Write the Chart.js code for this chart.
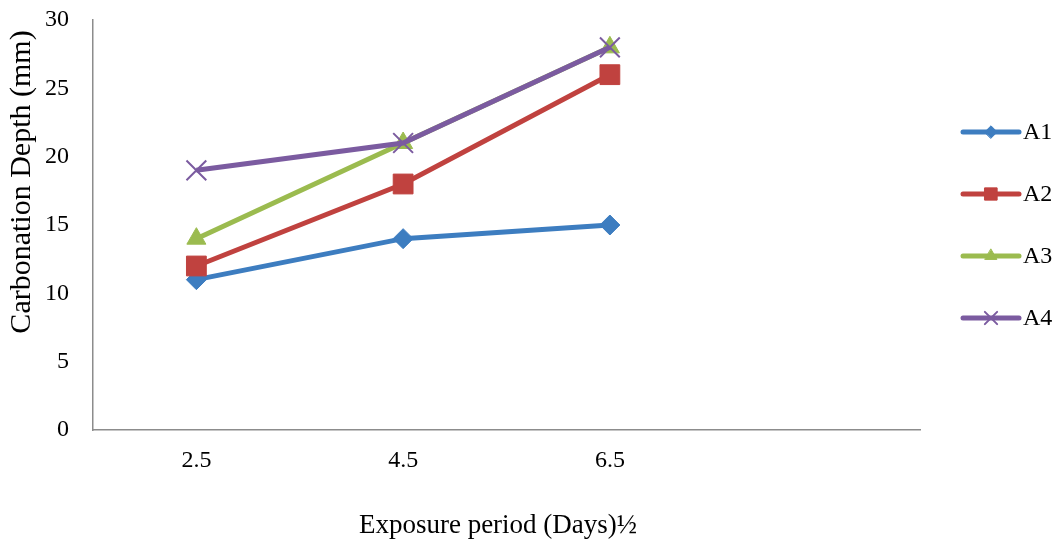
<!DOCTYPE html>
<html>
<head>
<meta charset="utf-8">
<script src="https://cdn.jsdelivr.net/npm/chart.js@4/dist/chart.umd.min.js"></script>
<style>
  html, body { margin: 0; padding: 0; background: #fff; }
  #wrap { width: 1054px; height: 541px; }
</style>
</head>
<body>
<div id="wrap"><canvas id="chart" width="1054" height="541"></canvas></div>
<script>
// data
const periods = ['2.5', '4.5', '6.5', ''];
const seriesNames = ['A1', 'A2', 'A3', 'A4'];
const a1 = [11, 14, 15];
const a2 = [12, 18, 26];
const a3 = [14, 21, 28];
const a4 = [19, 21, 28];
const yTicks = [0, 5, 10, 15, 20, 25, 30];
const xTitle = 'Exposure period (Days)½';
const yTitle = 'Carbonation Depth (mm)';

const colors = ['#3d7dc0', '#c0423f', '#9bbb4f', '#7b5ba0'];
const styles = ['rectRot', 'rect', 'triangle', 'crossRot'];
const radii = [10, 14, 11, 14];
const values = [a1, a2, a3, a4];

const serif = '"Liberation Serif", "Times New Roman", serif';
const axisGrey = '#8c8c8c';

// axis titles placed like the original (not centred on the plot)
const axisTitles = {
  id: 'axisTitles',
  afterDraw(chart) {
    const ctx = chart.ctx;
    ctx.save();
    ctx.fillStyle = '#000';
    ctx.textAlign = 'center';
    ctx.font = '27px ' + serif;
    ctx.textBaseline = 'alphabetic';
    ctx.fillText(xTitle, 498, 533);
    ctx.translate(22, 182);
    ctx.rotate(-Math.PI / 2);
    ctx.font = '30px ' + serif;
    ctx.textBaseline = 'middle';
    ctx.fillText(yTitle, 0, 0);
    ctx.restore();
  }
};

// legend drawn on the right: line with the marker in the middle
const sideLegend = {
  id: 'sideLegend',
  afterDraw(chart) {
    const ctx = chart.ctx;
    const area = chart.chartArea;
    const gap = 62;
    const mid = (area.top + area.bottom) / 2;
    const x0 = 963, x1 = 1019;
    chart.data.datasets.forEach((ds, i) => {
      const y = mid + (i - 1.5) * gap;
      ctx.save();
      ctx.strokeStyle = ds.borderColor;
      ctx.lineWidth = ds.borderWidth;
      ctx.lineCap = 'round';
      ctx.beginPath();
      ctx.moveTo(x0, y);
      ctx.lineTo(x1, y);
      ctx.stroke();
      ctx.fillStyle = ds.borderColor;
      ctx.strokeStyle = ds.borderColor;
      ctx.lineWidth = ds.pointStyle === 'crossRot' ? 2 : 1;
      Chart.helpers.drawPoint(ctx, {
        pointStyle: ds.pointStyle,
        radius: ds.pointRadius * 0.62,
        rotation: 0,
        borderWidth: ctx.lineWidth
      }, (x0 + x1) / 2, y);
      ctx.fillStyle = '#000';
      ctx.font = '24px ' + serif;
      ctx.textBaseline = 'middle';
      ctx.textAlign = 'left';
      ctx.fillText(ds.label, x1 + 4, y + 1);
      ctx.restore();
    });
  }
};

const datasets = seriesNames.map((name, i) => ({
  label: name,
  data: values[i],
  borderColor: colors[i],
  backgroundColor: colors[i],
  borderWidth: 5,
  pointStyle: styles[i],
  pointRadius: radii[i],
  pointHoverRadius: radii[i],
  pointBorderWidth: styles[i] === 'crossRot' ? 2 : 1,
  pointBackgroundColor: colors[i],
  pointBorderColor: colors[i],
  tension: 0,
  clip: false,
  order: seriesNames.length - i
}));

new Chart(document.getElementById('chart'), {
  type: 'line',
  data: { labels: periods, datasets },
  plugins: [axisTitles, sideLegend],
  options: {
    responsive: false,
    animation: false,
    layout: { autoPadding: false, padding: { top: 20, right: 134, bottom: 0, left: 0 } },
    plugins: { legend: { display: false }, tooltip: { enabled: false } },
    scales: {
      x: {
        offset: true,
        grid: { display: false, drawTicks: false },
        border: { display: true, color: axisGrey, width: 1.5 },
        ticks: { color: '#000', font: { family: serif, size: 24 }, padding: 16, maxRotation: 0 },
        afterFit(scale) {
          scale.height = 111;
          scale.paddingTop = 0;
          scale.paddingBottom = 0;
        }
      },
      y: {
        min: 0,
        max: 30,
        afterBuildTicks(scale) { scale.ticks = yTicks.map(v => ({ value: v })); },
        grid: { display: false, drawTicks: false },
        border: { display: true, color: axisGrey, width: 1.5 },
        ticks: { color: '#000', font: { family: serif, size: 24 }, padding: 24 },
        afterFit(scale) {
          scale.width = 93;
          scale.paddingTop = 0;
          scale.paddingBottom = 0;
        }
      }
    }
  }
});
</script>
</body>
</html>
